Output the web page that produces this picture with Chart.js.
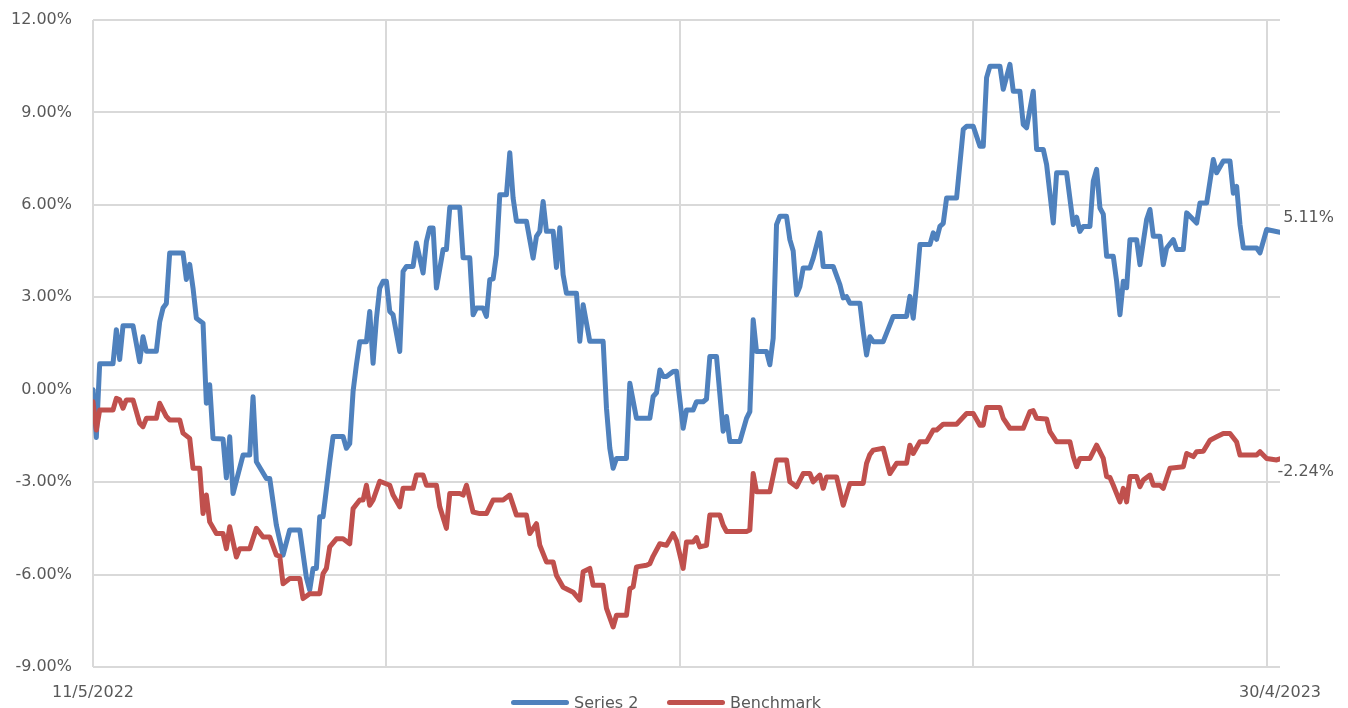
<!DOCTYPE html>
<html>
<head>
<meta charset="utf-8">
<script src="https://cdn.jsdelivr.net/npm/chart.js@4.4.1/dist/chart.umd.min.js"></script>
<style>
  html, body { margin: 0; padding: 0; background: #fff; overflow: hidden; }
  .wrap { position: relative; width: 1348px; height: 708px; }
  .legend-item { position: absolute; top: 694px; height: 16px; display: flex; align-items: center;
    font: 16px "DejaVu Sans", sans-serif; color: #595959; white-space: nowrap; }
  .legend-item i { display: inline-block; width: 58px; height: 5px; border-radius: 3px; margin-right: 5px; }
</style>
</head>
<body>
<div class="wrap">
  <canvas id="chart" width="1348" height="708"></canvas>
</div>
<script>
// day offsets from 11/5/2022, values in %
const seriesDays = [0,1,2,6,7,8,9,12,14,15,16,19,20,21,22,23,27,28,29,30,31,33,34,35,36,39,40,41,42,45,47,48,49,52,53,55,57,59,62,64,65,66,67,68,69,71,72,75,76,77,78,79,80,82,83,84,85,86,87,88,89,90,92,93,94,96,97,99,100,101,102,103,105,106,107,110,111,113,114,115,117,118,119,120,121,122,124,125,126,127,130,132,133,134,135,136,138,139,140,141,142,145,146,147,149,153,154,155,156,157,160,161,163,167,168,169,170,171,172,174,175,177,178,180,181,183,184,185,187,189,190,191,194,196,197,198,199,202,203,204,205,206,208,209,210,211,212,213,215,216,218,219,222,224,225,226,227,230,231,232,233,234,237,240,244,245,246,247,248,251,252,253,254,255,256,259,261,262,264,266,267,268,269,272,273,275,276,278,279,280,282,283,285,286,288,289,292,294,295,296,297,299,300,301,302,303,304,306,307,308,309,310,311,313,314,315,316,317,318,320,321,322,324,325,327,328,331,332,334,336,337,339,341,342,343,344,345,349,350,352,356];
const seriesValues = [0.0,-1.55,0.84,0.84,1.95,0.98,2.08,2.08,0.91,1.72,1.25,1.25,2.2,2.65,2.8,4.44,4.44,3.58,4.07,3.3,2.32,2.16,-0.44,0.16,-1.58,-1.6,-2.86,-1.53,-3.37,-2.12,-2.12,-0.23,-2.34,-2.88,-2.88,-4.4,-5.37,-4.55,-4.55,-6.1,-6.5,-5.8,-5.8,-4.12,-4.12,-2.34,-1.52,-1.52,-1.9,-1.75,-0.06,0.81,1.56,1.56,2.54,0.86,2.3,3.3,3.52,3.52,2.54,2.43,1.24,3.84,4.0,4.0,4.76,3.79,4.81,5.25,5.25,3.3,4.55,4.55,5.92,5.92,4.28,4.28,2.43,2.65,2.65,2.38,3.57,3.6,4.38,6.33,6.33,7.69,6.22,5.47,5.47,4.27,4.98,5.14,6.11,5.14,5.14,3.97,5.26,3.73,3.13,3.13,1.57,2.76,1.57,1.57,-0.6,-1.9,-2.55,-2.23,-2.23,0.21,-0.93,-0.93,-0.22,-0.1,0.64,0.43,0.43,0.59,0.6,-1.25,-0.66,-0.66,-0.39,-0.39,-0.3,1.08,1.08,-1.35,-0.87,-1.68,-1.68,-0.93,-0.71,2.27,1.24,1.24,0.81,1.67,5.36,5.63,5.63,4.87,4.5,3.08,3.35,3.95,3.95,4.27,5.09,4.0,4.0,3.41,2.98,3.02,2.81,2.81,1.9,1.13,1.72,1.56,1.56,2.38,2.38,3.03,2.32,3.4,4.71,4.71,5.09,4.88,5.3,5.4,6.22,6.22,8.45,8.55,8.55,7.9,7.9,10.13,10.5,10.5,9.75,10.56,9.69,9.69,8.61,8.5,9.69,7.8,7.8,7.31,5.41,7.04,7.04,5.36,5.6,5.14,5.3,5.3,6.77,7.15,5.9,5.7,4.33,4.33,3.52,2.43,3.52,3.31,4.87,4.87,4.06,4.8,5.52,5.85,4.98,4.98,4.06,4.6,4.87,4.55,4.55,5.74,5.41,6.06,6.06,7.47,7.04,7.42,7.42,6.38,6.6,5.36,4.6,4.6,4.44,5.2,5.11];

const benchmarkDays = [0,1,2,6,7,8,9,10,12,14,15,16,19,20,22,23,26,27,29,30,32,33,34,35,37,39,40,41,43,44,47,49,51,53,55,56,57,59,62,63,65,68,69,70,71,73,75,77,78,80,81,82,83,84,86,89,90,92,93,96,97,99,100,103,104,106,107,110,111,112,114,116,118,120,123,125,127,130,131,133,134,136,138,139,141,144,146,147,149,150,153,154,156,157,160,161,162,163,166,167,168,170,172,174,175,177,178,180,181,182,184,185,188,189,190,196,197,198,199,203,205,208,209,211,213,215,216,218,219,220,223,225,227,231,232,233,234,237,239,241,244,245,246,248,250,252,253,255,259,262,264,266,267,268,272,273,275,279,281,282,283,286,287,289,293,294,295,296,299,301,303,304,305,306,308,309,310,311,313,314,315,317,318,320,321,323,327,328,330,331,333,335,337,339,341,343,344,349,350,352,355,356];
const benchmarkValues = [-0.39,-1.31,-0.66,-0.66,-0.28,-0.33,-0.6,-0.33,-0.33,-1.09,-1.2,-0.93,-0.93,-0.44,-0.87,-0.98,-0.98,-1.41,-1.58,-2.55,-2.55,-4.02,-3.42,-4.29,-4.67,-4.67,-5.16,-4.45,-5.43,-5.16,-5.16,-4.5,-4.78,-4.78,-5.37,-5.4,-6.3,-6.13,-6.13,-6.78,-6.62,-6.62,-5.97,-5.8,-5.1,-4.84,-4.84,-5.0,-3.86,-3.58,-3.58,-3.1,-3.75,-3.58,-2.97,-3.1,-3.42,-3.8,-3.2,-3.2,-2.77,-2.77,-3.1,-3.1,-3.8,-4.5,-3.37,-3.37,-3.42,-3.1,-3.97,-4.02,-4.02,-3.58,-3.58,-3.42,-4.07,-4.07,-4.67,-4.35,-5.05,-5.59,-5.59,-6.03,-6.41,-6.57,-6.83,-5.91,-5.8,-6.35,-6.35,-7.1,-7.7,-7.32,-7.32,-6.46,-6.4,-5.75,-5.7,-5.65,-5.4,-5.0,-5.05,-4.67,-4.9,-5.8,-4.94,-4.94,-4.8,-5.1,-5.05,-4.07,-4.07,-4.4,-4.6,-4.6,-4.55,-2.72,-3.31,-3.31,-2.28,-2.28,-2.99,-3.15,-2.72,-2.72,-2.99,-2.77,-3.2,-2.83,-2.83,-3.75,-3.04,-3.04,-2.39,-2.1,-1.96,-1.9,-2.72,-2.39,-2.39,-1.8,-2.07,-1.69,-1.69,-1.31,-1.31,-1.12,-1.12,-0.77,-0.77,-1.15,-1.15,-0.58,-0.58,-0.93,-1.25,-1.25,-0.71,-0.68,-0.93,-0.95,-1.36,-1.69,-1.69,-2.17,-2.5,-2.23,-2.23,-1.8,-2.23,-2.82,-2.85,-3.1,-3.64,-3.2,-3.64,-2.82,-2.82,-3.15,-2.93,-2.77,-3.1,-3.1,-3.2,-2.55,-2.5,-2.07,-2.17,-2.01,-2.0,-1.64,-1.53,-1.42,-1.42,-1.7,-2.12,-2.12,-2.01,-2.23,-2.28,-2.24];

const seriesNames = ['Series 2', 'Benchmark'];
const gridDays = [0, 88, 176, 264, 352];
const labelDays = [0, 356];
const tickLabels = ['11/5/2022', '30/4/2023'];
const yTicks = [-9, -6, -3, 0, 3, 6, 9, 12];

const blue = '#4f81bd';
const red = '#c0504d';
const gray = '#595959';
const gridGray = '#d9d9d9';
const fontFamily = '"DejaVu Sans", sans-serif';

Chart.defaults.font.family = fontFamily;
Chart.defaults.font.size = 16;
Chart.defaults.color = gray;

const toPoints = (days, values) => days.map((d, i) => ({ x: d, y: values[i] }));

const endLabels = {
    id: 'endLabels',
    afterDatasetsDraw(chart) {
        const ctx = chart.ctx;
        ctx.save();
        ctx.font = '16px ' + fontFamily;
        ctx.fillStyle = gray;
        ctx.textAlign = 'right';
        ctx.textBaseline = 'middle';
        chart.data.datasets.forEach((ds, i) => {
            const meta = chart.getDatasetMeta(i);
            const last = meta.data[meta.data.length - 1];
            const value = ds.data[ds.data.length - 1].y;
            ctx.fillText(value.toFixed(2) + '%', chart.chartArea.right + 54, last.y + ds.labelShift);
        });
        ctx.restore();
    }
};

new Chart(document.getElementById('chart'), {
    type: 'line',
    data: {
        datasets: [
            {
                label: seriesNames[1],
                data: toPoints(benchmarkDays, benchmarkValues),
                borderColor: red,
                backgroundColor: red,
                borderWidth: 5,
                order: 0,
                labelShift: 13
            },
            {
                label: seriesNames[0],
                data: toPoints(seriesDays, seriesValues),
                borderColor: blue,
                backgroundColor: blue,
                borderWidth: 5,
                order: 1,
                labelShift: -14
            }
        ]
    },
    options: {
        responsive: false,
        animation: false,
        devicePixelRatio: 1,
        layout: { padding: { top: 20, right: 68, bottom: 0, left: 0 } },
        elements: {
            point: { radius: 0, hoverRadius: 0 },
            line: { tension: 0, borderJoinStyle: 'round', borderCapStyle: 'round' }
        },
        plugins: {
            legend: { display: false },
            tooltip: { enabled: false }
        },
        scales: {
            x: {
                type: 'linear',
                min: 0,
                max: labelDays[1],
                afterBuildTicks: (scale) => {
                    scale.ticks = gridDays.concat([labelDays[1]]).map((v) => ({ value: v }));
                },
                afterFit: (scale) => { scale.height = 41; },
                ticks: {
                    autoSkip: false,
                    maxRotation: 0,
                    padding: 16,
                    color: gray,
                    callback: (value) => {
                        const k = labelDays.indexOf(value);
                        return k >= 0 ? tickLabels[k] : '';
                    }
                },
                grid: {
                    drawTicks: false,
                    lineWidth: 2,
                    color: (c) => (c.tick && gridDays.includes(c.tick.value)) ? gridGray : 'rgba(0,0,0,0)'
                },
                border: { display: false }
            },
            y: {
                min: yTicks[0],
                max: yTicks[yTicks.length - 1],
                afterBuildTicks: (scale) => {
                    scale.ticks = yTicks.map((v) => ({ value: v }));
                },
                afterFit: (scale) => {
                    scale.width = 93;
                    scale.paddingTop = 0;
                    scale.paddingBottom = 0;
                },
                ticks: {
                    padding: 21,
                    color: gray,
                    callback: (value) => value.toFixed(2) + '%'
                },
                grid: { drawTicks: false, lineWidth: 2, color: gridGray },
                border: { display: false }
            }
        }
    },
    plugins: [endLabels]
});

// legend below the plot
const wrap = document.querySelector('.wrap');
const legendItems = [
    { name: seriesNames[0], color: blue, left: 511 },
    { name: seriesNames[1], color: red, left: 667 }
];
legendItems.forEach((item) => {
    const el = document.createElement('div');
    el.className = 'legend-item';
    el.style.left = item.left + 'px';
    const swatch = document.createElement('i');
    swatch.style.background = item.color;
    el.appendChild(swatch);
    el.appendChild(document.createTextNode(item.name));
    wrap.appendChild(el);
});
</script>
</body>
</html>
